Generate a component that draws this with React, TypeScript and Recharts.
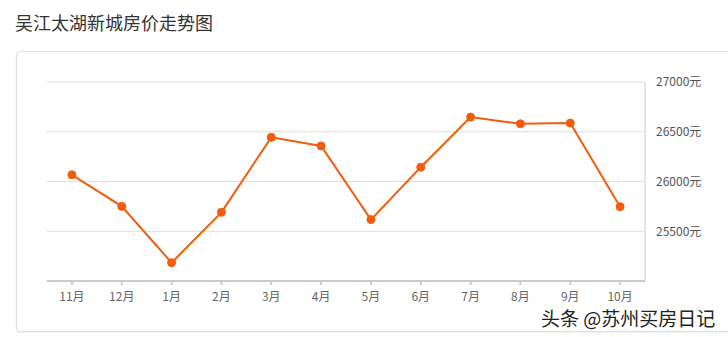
import { CartesianGrid, Line, LineChart, XAxis, YAxis } from "recharts";

const months = ["11月", "12月", "1月", "2月", "3月", "4月", "5月", "6月", "7月", "8月", "9月", "10月"];
const prices = [26067, 25750, 25184, 25690, 26444, 26357, 25617, 26144, 26647, 26580, 26587, 25747];
const yTicks = [25500, 26000, 26500, 27000];

const data = months.map((m, i) => ({ month: m, price: prices[i] }));

const font = '"Noto Sans CJK SC", "Noto Sans", sans-serif';

export default function App() {
  return (
    <div style={{ position: "fixed", left: 0, top: 0, width: 728, height: 337, background: "#fff", overflow: "hidden", fontFamily: font }}>
      <div style={{ position: "absolute", left: 15, top: 9, fontSize: 18, color: "#333", lineHeight: "26px" }}>
        吴江太湖新城房价走势图
      </div>
      <div
        style={{
          position: "absolute",
          left: 16,
          top: 51,
          width: 730,
          height: 279,
          border: "1px solid #ddd",
          borderRadius: 4,
          boxShadow: "0 1px 2px rgba(0,0,0,0.06)",
        }}
      />
      <div style={{ position: "absolute", left: 0, top: 0 }}>
        <LineChart width={728} height={337} data={data} margin={{ top: 82, right: 13, left: 47, bottom: 26 }}>
          <CartesianGrid vertical={false} stroke="#ddd" />
          <XAxis
            dataKey="month"
            scale="band"
            stroke="#ccc"
            strokeWidth={2}
            tickSize={4}
            tickMargin={7}
            height={30}
            interval={0}
            tick={{ fill: "#666", fontSize: 12, fontFamily: font }}
          />
          <YAxis
            orientation="right"
            domain={[25000, 27000]}
            ticks={yTicks}
            width={70}
            stroke="#ccc"
            tickLine={false}
            tickMargin={5}
            tickFormatter={(v) => `${v}元`}
            tick={{ fill: "#555", fontSize: 12, fontFamily: font }}
          />
          <Line
            type="linear"
            dataKey="price"
            stroke="#f25c0c"
            strokeWidth={2}
            dot={{ r: 4, fill: "#f25c0c", stroke: "#f25c0c", strokeWidth: 1 }}
            isAnimationActive={false}
          />
        </LineChart>
      </div>
      <div
        style={{
          position: "absolute",
          left: 541,
          top: 305,
          fontSize: 19,
          color: "#222",
          lineHeight: "26px",
          textShadow: "0 0 2px #fff, 0 0 2px #fff",
          whiteSpace: "nowrap",
        }}
      >
        头条 @苏州买房日记
      </div>
    </div>
  );
}
